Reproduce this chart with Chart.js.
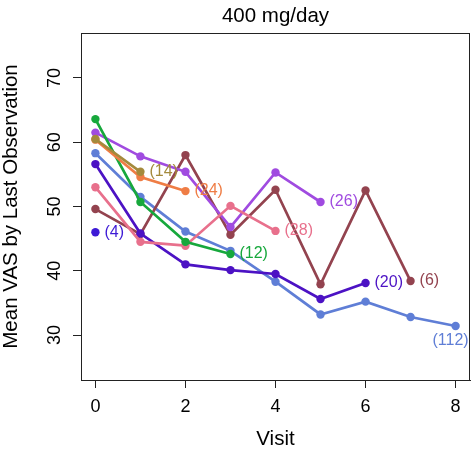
<!DOCTYPE html>
<html>
<head>
<meta charset="utf-8">
<script src="https://cdn.jsdelivr.net/npm/chart.js@4"></script>
<style>
  body { margin: 0; background: #fff; }
  canvas { display: block; }
</style>
</head>
<body>
<canvas id="vas__chart-canvas" width="472" height="450"></canvas>
<script>
// visit numbers and axis ticks
const visits = [0, 1, 2, 3, 4, 5, 6, 7, 8];
const xTicks = [0, 2, 4, 6, 8];
const yTicks = [30, 40, 50, 60, 70];

// mean VAS per visit, one array per last-observation group
const n4 = [46.0];
const n14 = [60.5, 55.4];
const n24 = [60.4, 54.6, 52.4];
const n12 = [63.6, 50.7, 44.5, 42.6];
const n28 = [53.0, 44.5, 43.9, 50.1, 46.2];
const n26 = [61.5, 57.8, 55.4, 46.8, 55.3, 50.7];
const n20 = [56.6, 45.8, 41.0, 40.1, 39.5, 35.6, 38.1];
const n6 = [49.6, 45.7, 58.0, 45.6, 52.6, 37.9, 52.5, 38.4];
const n112 = [58.3, 51.5, 46.1, 43.1, 38.3, 33.2, 35.2, 32.8, 31.4];

const groupLabels = ["(4)", "(14)", "(24)", "(12)", "(28)", "(26)", "(20)", "(6)", "(112)"];
const groupValues = [n4, n14, n24, n12, n28, n26, n20, n6, n112];
const groupColors = ["#3d1ad6", "#a48a3c", "#ef7d45", "#17a83c", "#e8708c", "#a04be0", "#4c12c4", "#93434f", "#5f7ed6"];

const FONT = "'Liberation Sans', Arial, Helvetica, sans-serif";

let datasets = groupValues.map((vals, i) => ({
    label: groupLabels[i],
    data: vals.map((v, j) => ({x: visits[j], y: v})),
    borderColor: groupColors[i],
    backgroundColor: groupColors[i],
    borderWidth: 2.7,
    pointRadius: 4.2,
    pointBorderWidth: 0,
    fill: false,
    tension: 0,
}));

// box round the plot region
const boxPlugin = {
    id: 'box',
    afterDraw(chart) {
        const a = chart.chartArea;
        const ctx = chart.ctx;
        ctx.save();
        ctx.strokeStyle = "#222";
        ctx.lineWidth = 1;
        ctx.strokeRect(a.left + 0.5, a.top + 0.5, a.right - a.left - 1, a.bottom - a.top);
        ctx.restore();
    }
};

// "(n)" labels next to the last point of each line
const endLabels = {
    id: 'endLabels',
    afterDatasetsDraw(chart) {
        const ctx = chart.ctx;
        ctx.save();
        ctx.font = "16px " + FONT;
        chart.data.datasets.forEach((ds, i) => {
            const meta = chart.getDatasetMeta(i);
            const pt = meta.data[meta.data.length - 1];
            ctx.fillStyle = ds.borderColor;
            ctx.textBaseline = "middle";
            if (ds.label === "(112)") {
                ctx.textAlign = "center";
                ctx.fillText(ds.label, pt.x - 5, pt.y + 15);
            } else {
                ctx.textAlign = "left";
                ctx.fillText(ds.label, pt.x + 9, pt.y);
            }
        });
        ctx.restore();
    }
};

let vasChart = new Chart(document.getElementById("vas__chart-canvas").getContext("2d"), {
    type: 'line',
    data: { datasets: datasets },
    plugins: [boxPlugin, endLabels],
    options: {
        responsive: false,
        animation: false,
        layout: { autoPadding: false, padding: { left: 0, right: 2, top: 0, bottom: 0 } },
        plugins: {
            legend: { display: false },
            tooltip: { enabled: false },
            title: {
                display: true,
                text: "400 mg/day",
                fullSize: false,
                color: "#000",
                font: { family: FONT, size: 20.5, weight: 'normal', lineHeight: 1 },
                padding: { top: 6.5, bottom: 6 },
            },
        },
        scales: {
            x: {
                type: 'linear',
                min: -0.32,
                max: 8.32,
                afterBuildTicks(scale) { scale.ticks = xTicks.map(v => ({value: v})); },
                afterFit(scale) {
                    scale.height = 70;
                    scale.paddingLeft = 0;
                    scale.paddingRight = 0;
                },
                grid: { drawOnChartArea: false, drawTicks: true, tickLength: 8, color: "#222" },
                border: { display: true, color: "#222" },
                ticks: { color: "#000", font: { family: FONT, size: 18 }, padding: 8, maxRotation: 0 },
                title: {
                    display: true,
                    text: "Visit",
                    color: "#000",
                    font: { family: FONT, size: 20.5, lineHeight: 1 },
                    padding: { top: 0, bottom: 0 },
                },
            },
            y: {
                min: 23,
                max: 77,
                afterBuildTicks(scale) { scale.ticks = yTicks.map(v => ({value: v})); },
                afterFit(scale) {
                    scale.width = 81;
                    scale.paddingTop = 0;
                    scale.paddingBottom = 0;
                },
                grid: { drawOnChartArea: false, drawTicks: true, tickLength: 8, color: "#222" },
                border: { display: true, color: "#222" },
                ticks: {
                    color: "#000",
                    font: { family: FONT, size: 18 },
                    minRotation: 90,
                    maxRotation: 90,
                    crossAlign: 'center',
                    padding: 8,
                },
                title: {
                    display: true,
                    text: "Mean VAS by Last Observation",
                    color: "#000",
                    font: { family: FONT, size: 20.5, lineHeight: 1 },
                    padding: { top: 1, bottom: 0 },
                },
            },
        },
    },
});
</script>
</body>
</html>
